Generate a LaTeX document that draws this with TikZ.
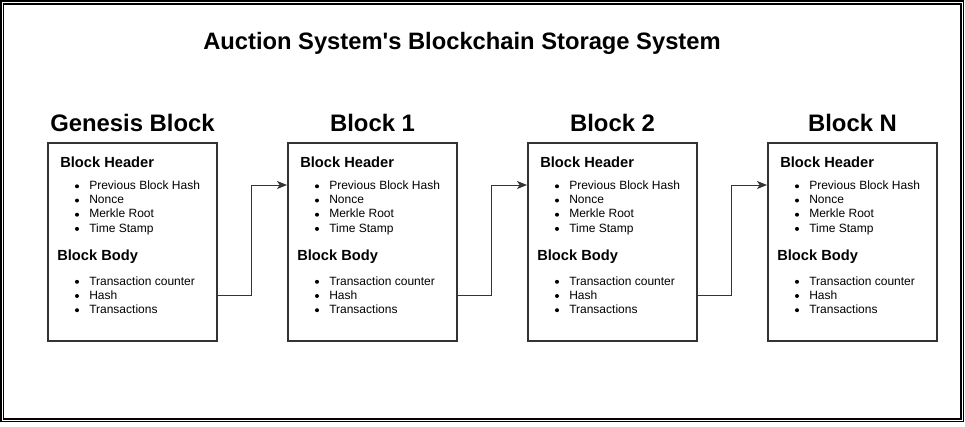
\documentclass[tikz,border=0pt]{standalone}
\usepackage{fontspec}
\setmainfont{Liberation Sans}
\usetikzlibrary{positioning,arrows.meta}
\definecolor{edgegray}{HTML}{333333}
\tikzset{
  blockbox/.style={draw=edgegray, line width=1.5pt, minimum width=126.75pt, minimum height=148.5pt, inner sep=0pt},
  maintitle/.style={font=\fontsize{17.8}{20}\selectfont\bfseries, inner sep=0pt, anchor=base},
  blocktitle/.style={font=\fontsize{17.9}{20}\selectfont\bfseries, inner sep=0pt, anchor=base},
  parthead/.style={font=\fontsize{11}{13}\selectfont\bfseries, inner sep=0pt, anchor=base west},
  item/.style={font=\fontsize{9}{11}\selectfont, inner sep=0pt, anchor=base west},
  link/.style={draw=edgegray, line width=0.75pt, -{Stealth[length=7.5pt,width=6pt,inset=2pt]}},
}

\begin{document}
\begin{tikzpicture}[x=0.75pt,y=-0.75pt]
\useasboundingbox (0,0) rectangle (965,426);
% double frame
\draw[line width=0.8pt] (1,1) rectangle (963.5,421.5);
\draw[line width=0.8pt] (3.5,4) rectangle (961,419);
\node[maintitle] (title) at (462,49) {Auction System\textquotesingle s Blockchain Storage System};
% blocks
\foreach \i/\name in {0/Genesis Block,1/Block 1,2/Block 2,3/Block N}{
  \pgfmathsetmacro{\x}{47+240*\i}
  \node[blockbox] (blk\i) at (\x+85.5,242) {};
  \node[blocktitle] (name\i) at (\x+85.5,131) {\name};
  \node[parthead] (hdr\i) at (\x+13,167) {Block Header};
  \foreach \t [count=\k from 0] in {Previous Block Hash,Nonce,Merkle Root,Time Stamp}{
    \node[item] (hi\i\k) at (\x+42,189.5+14.2*\k) {\t};
    \fill (\x+30,186.3+14.2*\k) circle (1.5pt);
  }
  \node[parthead] (bdy\i) at (\x+10,260.7) {Block Body};
  \foreach \t [count=\k from 0] in {Transaction counter,Hash,Transactions}{
    \node[item] (bi\i\k) at (\x+42,285+14.2*\k) {\t};
    \fill (\x+30,281.8+14.2*\k) circle (1.5pt);
  }
}
% links between blocks
\foreach \i [evaluate=\i as \j using int(\i+1)] in {0,1,2}{
  \draw[link] ([yshift=-39.75pt]blk\i.east) -- ++(33,0) |- ([yshift=42.75pt]blk\j.west);
}
\end{tikzpicture}
\end{document}
